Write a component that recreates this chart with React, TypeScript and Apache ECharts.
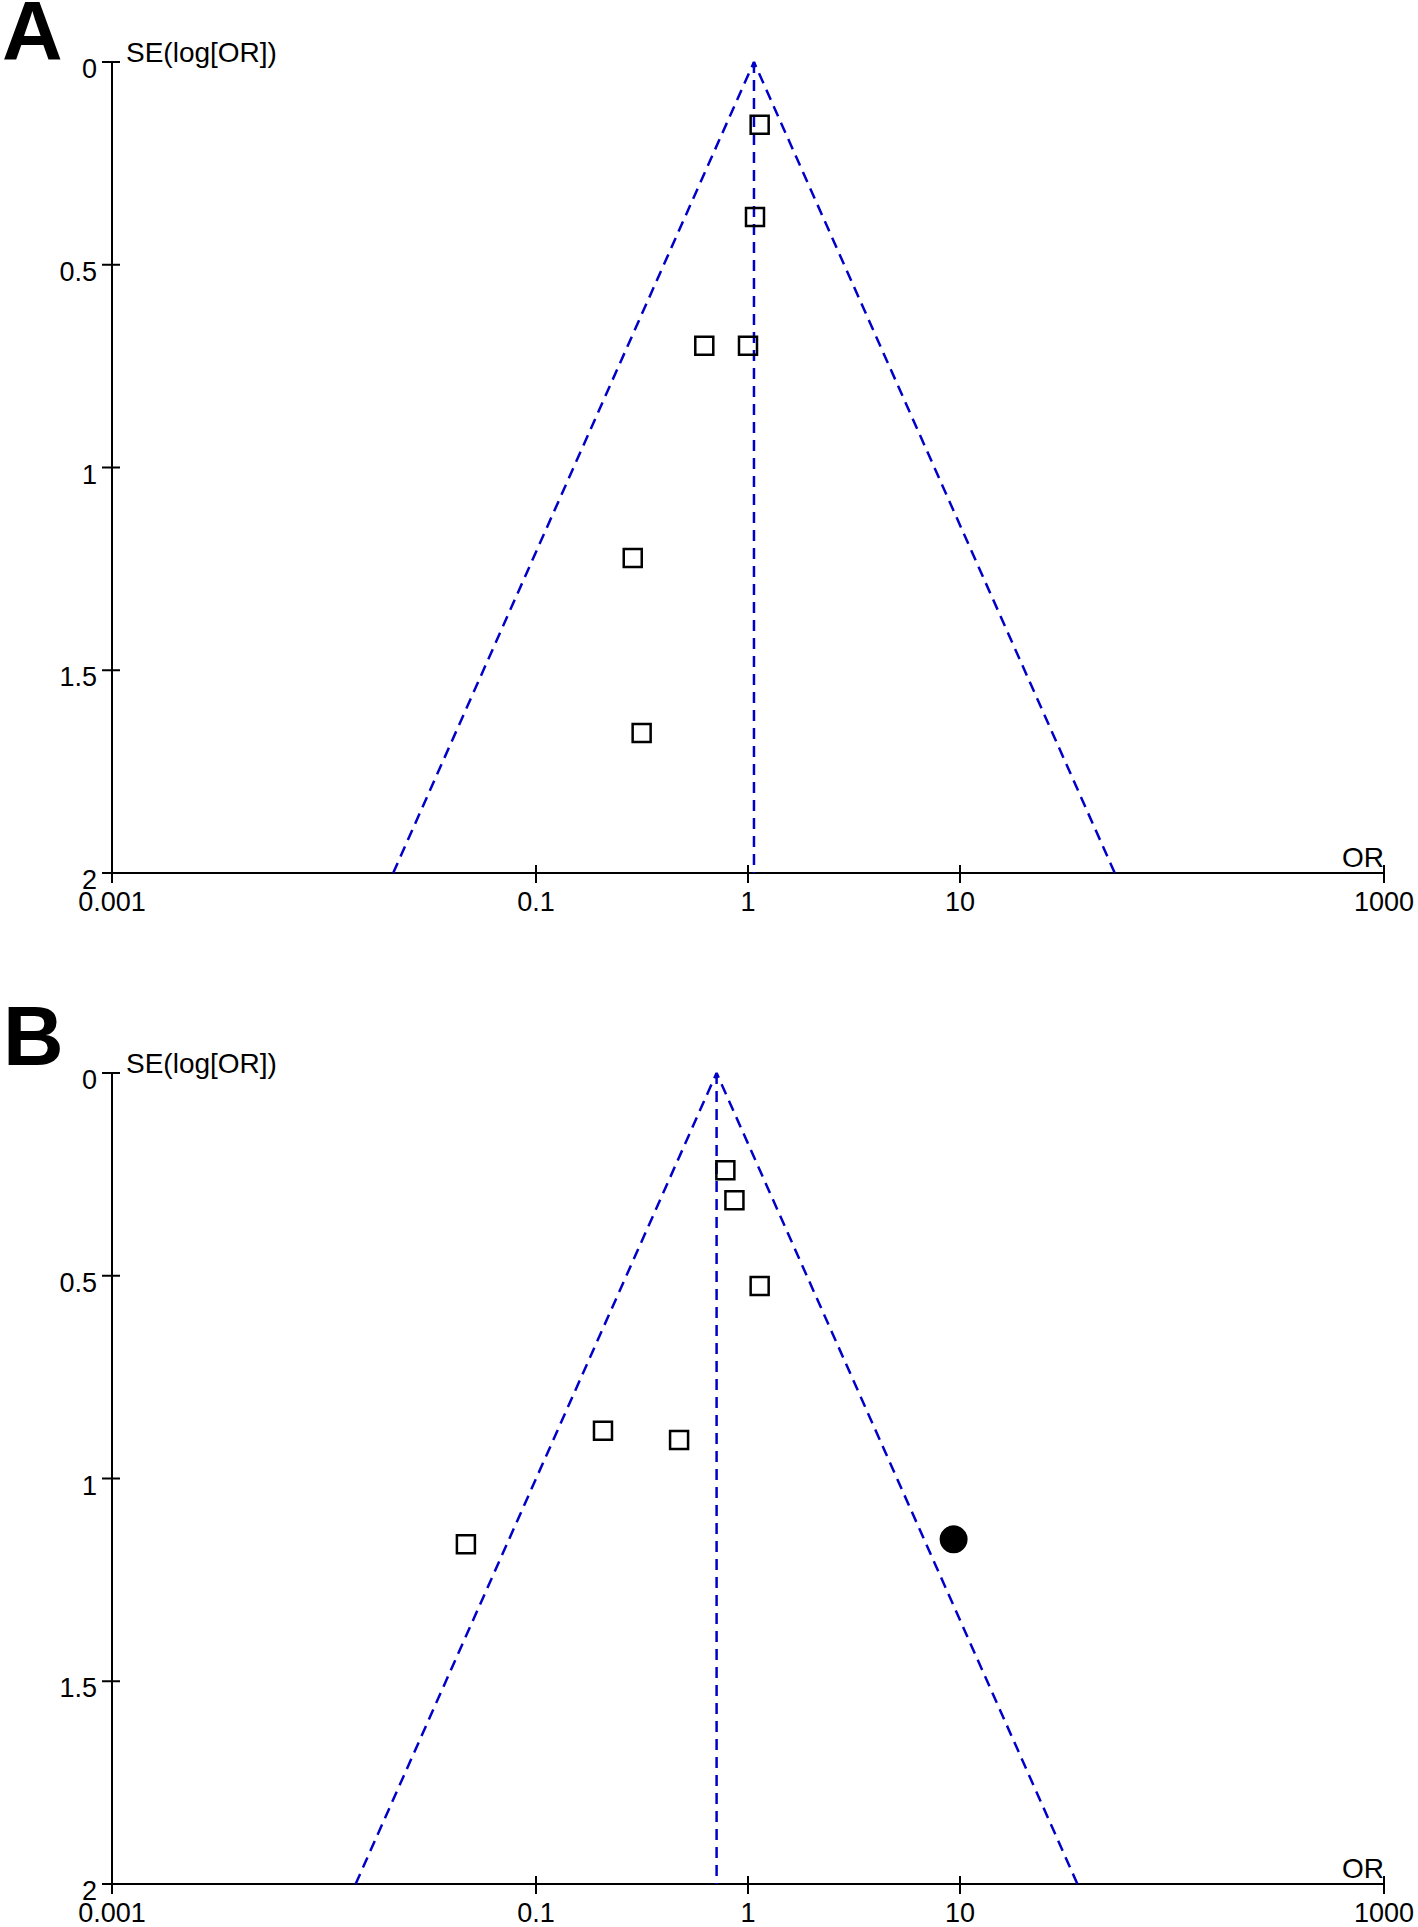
import React, { useEffect, useRef } from 'react';
import * as echarts from 'echarts';

// ---- Axis ticks / labels ----
const xTickValues = [0.001, 0.1, 1, 10, 1000];
const xTickLabels = ['0.001', '0.1', '1', '10', '1000'];
const yTickValues = [0, 0.5, 1, 1.5, 2];
const yTickLabels = ['0', '0.5', '1', '1.5', '2'];

const panelLabels = ['A', 'B'];
const yAxisName = 'SE(log[OR])';
const xAxisName = 'OR';

// ---- Panel A: studies (OR, SE) ----
const studiesA_OR = [1.135, 1.079, 0.622, 1.0, 0.286, 0.315];
const studiesA_SE = [0.155, 0.382, 0.7, 0.7, 1.223, 1.655];

// ---- Panel B: studies (OR, SE) ----
const studiesB_OR = [0.782, 0.863, 1.135, 0.207, 0.473, 0.0467];
const studiesB_SE = [0.24, 0.314, 0.525, 0.882, 0.905, 1.162];
// outlier study (filled circle)
const outlierB_OR = [9.33];
const outlierB_SE = [1.15];

// ---- Funnel lines: [lower limit at SE=2, pooled OR at apex, upper limit at SE=2] ----
const funnelA_OR = [0.0212, 1.067, 53.7];
const funnelB_OR = [0.0141, 0.711, 35.8];
const funnelSE = [2, 0, 2];
const pooledLineSE = [0, 2];

const FONT = '"Liberation Sans", Arial, Helvetica, sans-serif';
const BLUE = '#0000c8';
const BLACK = '#000000';

function xLabelFormatter(v: number) {
  for (let i = 0; i < xTickValues.length; i++) {
    if (Math.abs(Math.log10(v) - Math.log10(xTickValues[i])) < 1e-6) return xTickLabels[i];
  }
  return '';
}
function yLabelFormatter(v: number) {
  for (let i = 0; i < yTickValues.length; i++) {
    if (Math.abs(v - yTickValues[i]) < 1e-9) return yTickLabels[i];
  }
  return '';
}

export default function App() {
  const ref = useRef<HTMLDivElement>(null);

  useEffect(() => {
    if (!ref.current) return;
    const chart = echarts.init(ref.current, null, { renderer: 'svg' });

    const grids = [
      { left: 112, top: 62, width: 1272, height: 811 },
      { left: 112, top: 1073, width: 1272, height: 811 },
    ];

    const xAxes: any[] = [];
    const yAxes: any[] = [];
    const series: any[] = [];

    const panels = [
      { studiesOR: studiesA_OR, studiesSE: studiesA_SE, funnel: funnelA_OR, outOR: [] as number[], outSE: [] as number[] },
      { studiesOR: studiesB_OR, studiesSE: studiesB_SE, funnel: funnelB_OR, outOR: outlierB_OR, outSE: outlierB_SE },
    ];

    panels.forEach((p, i) => {
      xAxes.push({
        gridIndex: i,
        type: 'log',
        logBase: 10,
        min: 0.001,
        max: 1000,
        axisLine: { show: true, onZero: false, lineStyle: { color: BLACK, width: 2 } },
        axisTick: { show: false },
        minorTick: { show: false },
        splitLine: { show: false },
        axisLabel: {
          show: true,
          margin: 15,
          fontSize: 27,
          color: BLACK,
          fontFamily: FONT,
          showMinLabel: true,
          showMaxLabel: true,
          formatter: xLabelFormatter,
        },
        name: xAxisName,
        nameLocation: 'end',
        nameGap: 0,
        nameTextStyle: {
          align: 'right',
          verticalAlign: 'bottom',
          fontSize: 28,
          color: BLACK,
          fontFamily: FONT,
          padding: [0, 0, 2, 0],
        },
      });
      yAxes.push({
        gridIndex: i,
        type: 'value',
        inverse: true,
        min: 0,
        max: 2,
        interval: 0.5,
        axisLine: { show: true, onZero: false, lineStyle: { color: BLACK, width: 2 } },
        axisTick: { show: false },
        splitLine: { show: false },
        axisLabel: {
          margin: 15,
          fontSize: 27,
          color: BLACK,
          fontFamily: FONT,
          verticalAlign: 'top',
          lineHeight: 14,
          formatter: yLabelFormatter,
        },
        name: yAxisName,
        nameLocation: 'start',
        nameGap: -4,
        nameTextStyle: {
          align: 'left',
          verticalAlign: 'bottom',
          fontSize: 28,
          color: BLACK,
          fontFamily: FONT,
          padding: [0, 0, 0, 14],
        },
      });

      const dashed = { color: BLUE, width: 2.5, type: [11, 7] };
      // funnel limits
      series.push({
        type: 'line',
        xAxisIndex: i,
        yAxisIndex: i,
        data: p.funnel.map((x, k) => [x, funnelSE[k]]),
        symbol: 'none',
        lineStyle: dashed,
        silent: true,
        z: 2,
      });
      // pooled estimate vertical line
      series.push({
        type: 'line',
        xAxisIndex: i,
        yAxisIndex: i,
        data: pooledLineSE.map((s) => [p.funnel[1], s]),
        symbol: 'none',
        lineStyle: dashed,
        silent: true,
        z: 2,
      });
      // studies
      series.push({
        type: 'scatter',
        xAxisIndex: i,
        yAxisIndex: i,
        data: p.studiesOR.map((x, k) => [x, p.studiesSE[k]]),
        symbol: 'rect',
        symbolSize: 18,
        itemStyle: { color: 'rgba(0,0,0,0)', borderColor: BLACK, borderWidth: 2.5, opacity: 1 },
        silent: true,
        z: 3,
      });
      if (p.outOR.length) {
        series.push({
          type: 'scatter',
          xAxisIndex: i,
          yAxisIndex: i,
          data: p.outOR.map((x, k) => [x, p.outSE[k]]),
          symbol: 'circle',
          symbolSize: 28,
          itemStyle: { color: BLACK, opacity: 1 },
          silent: true,
          z: 3,
        });
      }
      // x-axis tick marks (crossing the axis)
      series.push({
        type: 'custom',
        xAxisIndex: i,
        yAxisIndex: i,
        clip: false,
        silent: true,
        data: xTickValues.map((v) => [v, yTickValues[yTickValues.length - 1]]),
        renderItem: (params: any, api: any) => {
          const pt = api.coord([api.value(0), api.value(1)]);
          return {
            type: 'line',
            shape: { x1: pt[0], y1: pt[1] - 8, x2: pt[0], y2: pt[1] + 10 },
            style: { stroke: BLACK, lineWidth: 2 },
          };
        },
        z: 4,
      });
      // y-axis tick marks (crossing the axis)
      series.push({
        type: 'custom',
        xAxisIndex: i,
        yAxisIndex: i,
        clip: false,
        silent: true,
        data: yTickValues.map((v) => [xTickValues[0], v]),
        renderItem: (params: any, api: any) => {
          const pt = api.coord([api.value(0), api.value(1)]);
          return {
            type: 'line',
            shape: { x1: pt[0] - 10, y1: pt[1], x2: pt[0] + 8, y2: pt[1] },
            style: { stroke: BLACK, lineWidth: 2 },
          };
        },
        z: 4,
      });
    });

    chart.setOption({
      animation: false,
      backgroundColor: '#ffffff',
      grid: grids.map((g) => ({ ...g, containLabel: false, outerBoundsMode: 'none' })),
      xAxis: xAxes,
      yAxis: yAxes,
      series,
      graphic: [
        {
          type: 'text',
          left: 2,
          top: -11,
          style: { text: panelLabels[0], fontSize: 84, lineHeight: 60, fontWeight: 'bold', fontFamily: FONT, fill: BLACK },
        },
        {
          type: 'text',
          left: 3,
          top: 994,
          style: { text: panelLabels[1], fontSize: 84, lineHeight: 60, fontWeight: 'bold', fontFamily: FONT, fill: BLACK },
        },
      ],
    });

    return () => chart.dispose();
  }, []);

  return (
    <div
      ref={ref}
      style={{ position: 'absolute', left: 0, top: 0, width: 1418, height: 1927, background: '#fff' }}
    />
  );
}
